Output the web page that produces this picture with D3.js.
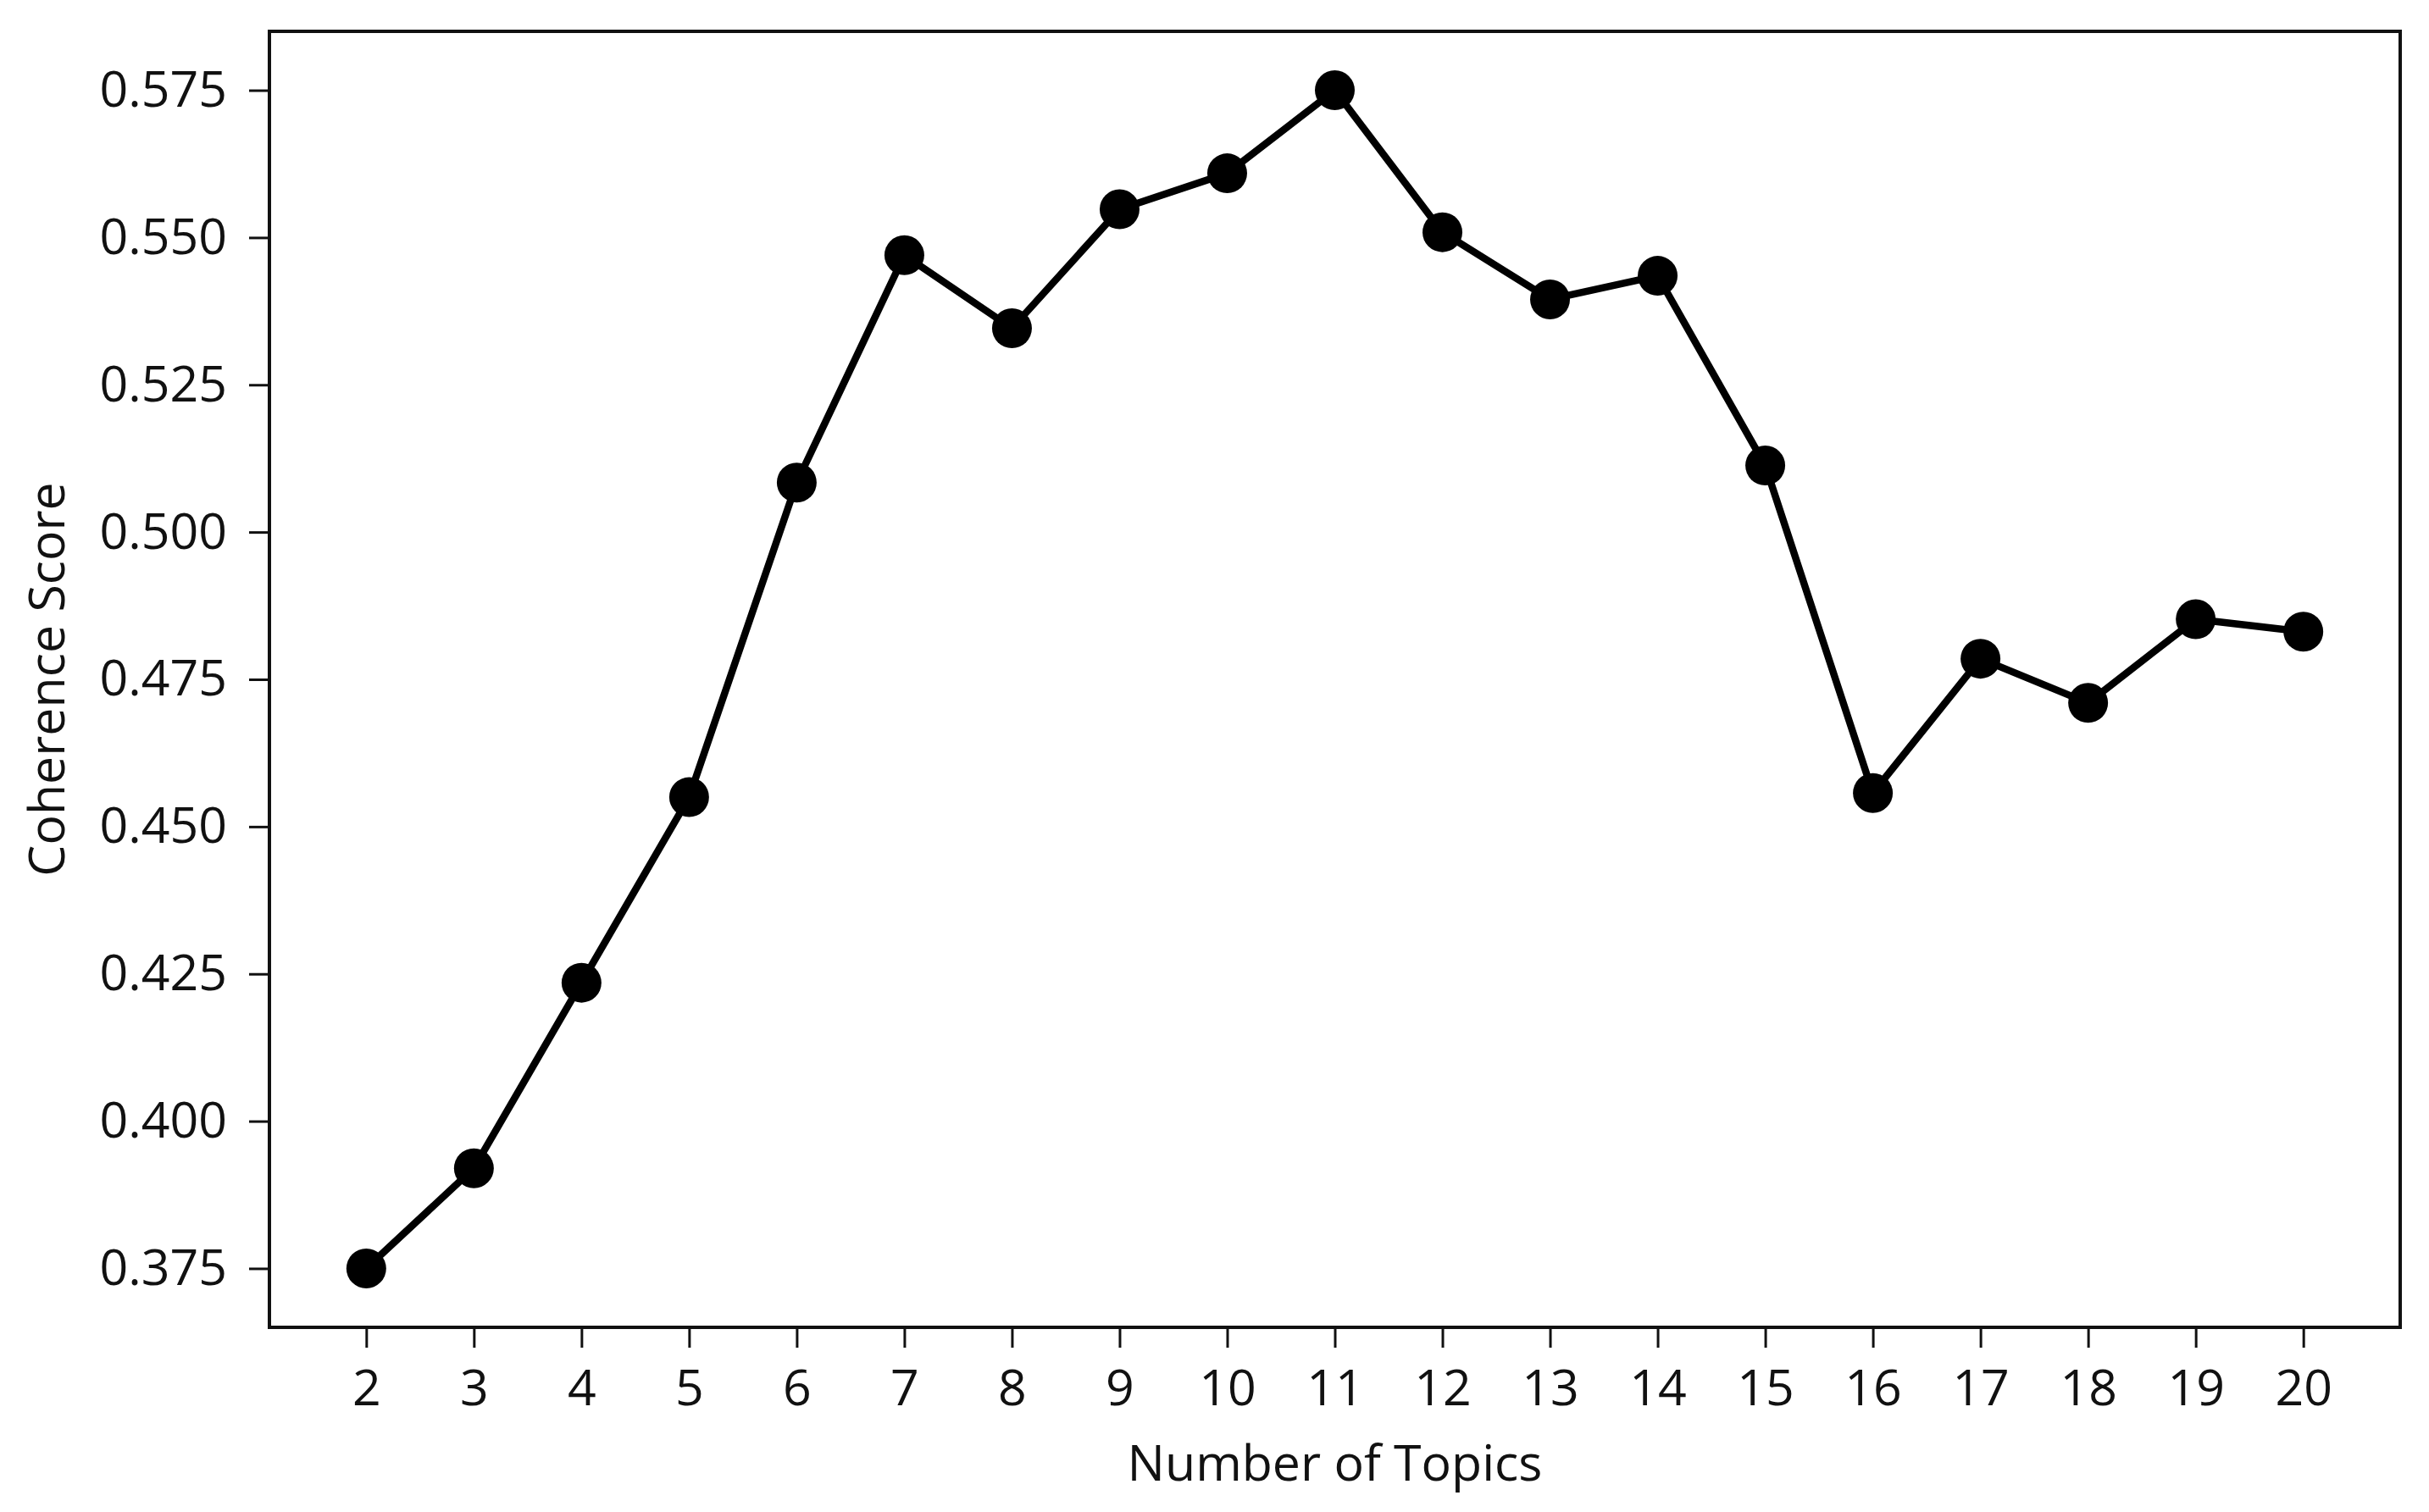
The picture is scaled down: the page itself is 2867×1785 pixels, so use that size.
<!DOCTYPE html>
<html>
<head>
<meta charset="utf-8">
<script src="https://cdn.jsdelivr.net/npm/d3@7"></script>
<style>
    body { margin: 0; background: #fff; }
    svg text { font-family: "Open Sans", "Noto Sans", sans-serif; fill: #111; }
</style>
</head>
<body>
<div id="chart"></div>
<script>
const topics = [2, 3, 4, 5, 6, 7, 8, 9, 10, 11, 12, 13, 14, 15, 16, 17, 18, 19, 20];
const coherence = [0.375, 0.392, 0.4235, 0.455, 0.5084, 0.547, 0.5346, 0.5548, 0.5609, 0.575,
    0.5509, 0.5395, 0.5435, 0.5113, 0.4557, 0.4785, 0.471, 0.4852, 0.4831];
const yTicks = [0.375, 0.400, 0.425, 0.450, 0.475, 0.500, 0.525, 0.550, 0.575];

const W = 2867;
const H = 1785;
const margin = {top: 37, right: 34, bottom: 218, left: 318};

const svg = d3.select('#chart')
    .append('svg')
    .attr('width', W)
    .attr('height', H);

const x = d3.scaleLinear()
    .domain([1.1, 20.9])
    .range([margin.left, W - margin.right]);

const y = d3.scaleLinear()
    .domain([0.365, 0.585])
    .range([H - margin.bottom, margin.top]);

const points = topics.map((t, i) => ({t: t, v: coherence[i]}));

// axes
const xAxis = svg.append('g')
    .attr('transform', `translate(0,${H - margin.bottom})`)
    .call(d3.axisBottom(x).tickValues(topics).tickSize(24).tickPadding(26).tickFormat(d3.format('d')));

const yAxis = svg.append('g')
    .attr('transform', `translate(${margin.left},0)`)
    .call(d3.axisLeft(y).tickValues(yTicks).tickSize(24).tickPadding(26).tickFormat(d3.format('.3f')));

[xAxis, yAxis].forEach(a => {
    a.select('.domain').remove();
    a.selectAll('.tick line').attr('stroke', '#111').attr('stroke-width', 3);
    a.selectAll('.tick text').style('font-size', '59px').attr('fill', '#111');
});

// frame
svg.append('rect')
    .attr('x', margin.left)
    .attr('y', margin.top)
    .attr('width', W - margin.left - margin.right)
    .attr('height', H - margin.top - margin.bottom)
    .attr('fill', 'none')
    .attr('stroke', '#111')
    .attr('stroke-width', 4);

const line = d3.line()
    .x(d => x(d.t))
    .y(d => y(d.v));

svg.append('path')
    .datum(points)
    .attr('d', line)
    .attr('fill', 'none')
    .attr('stroke', '#000')
    .attr('stroke-width', 8.5)
    .attr('stroke-linejoin', 'round');

svg.append('g')
    .selectAll('circle')
    .data(points)
    .enter()
    .append('circle')
    .attr('cx', d => x(d.t))
    .attr('cy', d => y(d.v))
    .attr('r', 23.5)
    .attr('fill', '#000');

// labels
svg.append('text')
    .attr('x', (margin.left + W - margin.right) / 2)
    .attr('y', 1748)
    .attr('text-anchor', 'middle')
    .style('font-size', '59px')
    .text('Number of Topics');

svg.append('text')
    .attr('transform', `translate(76,${(margin.top + H - margin.bottom) / 2}) rotate(-90)`)
    .attr('text-anchor', 'middle')
    .style('font-size', '59px')
    .text('Coherence Score');
</script>
</body>
</html>
